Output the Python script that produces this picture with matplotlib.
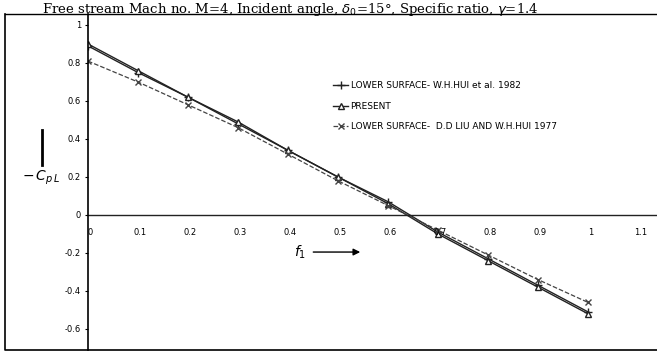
import matplotlib.pyplot as plt
import numpy as np

# distance along surface
xi = [0.0, 0.1, 0.2, 0.3, 0.4, 0.5, 0.6, 0.7, 0.8, 0.9, 1.0]
# -Cp on lower surface
hui_1982 = [0.89, 0.75, 0.62, 0.48, 0.34, 0.20, 0.07, -0.09, -0.23, -0.37, -0.51]
present = [0.90, 0.76, 0.62, 0.49, 0.34, 0.20, 0.06, -0.10, -0.24, -0.38, -0.52]
liu_hui_1977 = [0.81, 0.70, 0.58, 0.46, 0.32, 0.18, 0.05, -0.08, -0.21, -0.34, -0.46]

xticks = [0, 0.1, 0.2, 0.3, 0.4, 0.5, 0.6, 0.7, 0.8, 0.9, 1.0, 1.1]
xticklabels = ['0', '0.1', '0.2', '0.3', '0.4', '0.5', '0.6', '0.7', '0.8', '0.9', '1', '1.1']
yticks = [1, 0.8, 0.6, 0.4, 0.2, 0, -0.2, -0.4, -0.6]
yticklabels = ['1', '0.8', '0.6', '0.4', '0.2', '0', '-0.2', '-0.4', '-0.6']

fig = plt.figure(figsize=(6.57, 3.63), dpi=100)
ax = fig.add_axes([88/657, 13/363, 1 - 88/657, 1 - 27/363])

ax.plot(xi, hui_1982, '-', color='#222222', lw=1.0, marker='+', ms=6,
        label='LOWER SURFACE- W.H.HUI et al. 1982')
ax.plot(xi, present, '-', color='#222222', lw=1.0, marker='^', ms=5, mfc='white',
        label='PRESENT')
ax.plot(xi, liu_hui_1977, '--', color='#444444', lw=0.9, marker='x', ms=4,
        label='LOWER SURFACE-  D.D LIU AND W.H.HUI 1977')

ax.set_xlim(0, (657 - 88) / 500 * 1.0)
ax.set_ylim((215 - 350) / 190, (215 - 14) / 190)
ax.axhline(0, color='#222222', lw=1.0)

for s in ['top', 'right', 'bottom']:
    ax.spines[s].set_visible(False)
ax.spines['left'].set_linewidth(1.2)

ax.set_yticks(yticks)
ax.set_yticklabels(yticklabels, fontsize=6, family='DejaVu Sans')
ax.tick_params(axis='y', length=2, pad=3)
ax.set_xticks([])
for xv, lab in zip(xticks, xticklabels):
    ax.text(xv + 0.005, -0.09, lab, fontsize=6, ha='center', va='center')

# axis labels with arrows
ax.annotate('', xy=(0.55, -0.195), xytext=(0.445, -0.195),
            arrowprops=dict(arrowstyle='-|>', color='black', lw=1.0))
ax.text(0.425, -0.195, '$f_1$', fontsize=10, ha='center', va='center')
fig.text(22/657, 1 - 178/363, r'$-\,C_{p\,L}$', fontsize=10, ha='left', va='center')
fig.add_artist(plt.Line2D([42/657, 42/657], [1 - 165/363, 1 - 130/363],
                          color='black', lw=2.0))

ax.legend(loc='upper left', bbox_to_anchor=(0.425, 0.81), frameon=False,
          fontsize=6.5, handlelength=1.6, labelspacing=1.25, handletextpad=0.3,
          borderaxespad=0)

# outer frame and title
fig.add_artist(plt.Line2D([5/657, 5/657, 1.0], [1 - 14/363, 1 - 350/363, 1 - 350/363],
                          color='black', lw=1.2))
fig.add_artist(plt.Line2D([5/657, 1.0], [1 - 14/363, 1 - 14/363], color='black', lw=1.0))
fig.text(42/657, 1 - 1/363,
         r'Free stream Mach no. M=4, Incident angle, $\delta_0$=15$\degree$, Specific ratio, $\gamma$=1.4',
         fontsize=9.5, family='DejaVu Serif', ha='left', va='top')

fig.savefig('out.png', dpi=100)
